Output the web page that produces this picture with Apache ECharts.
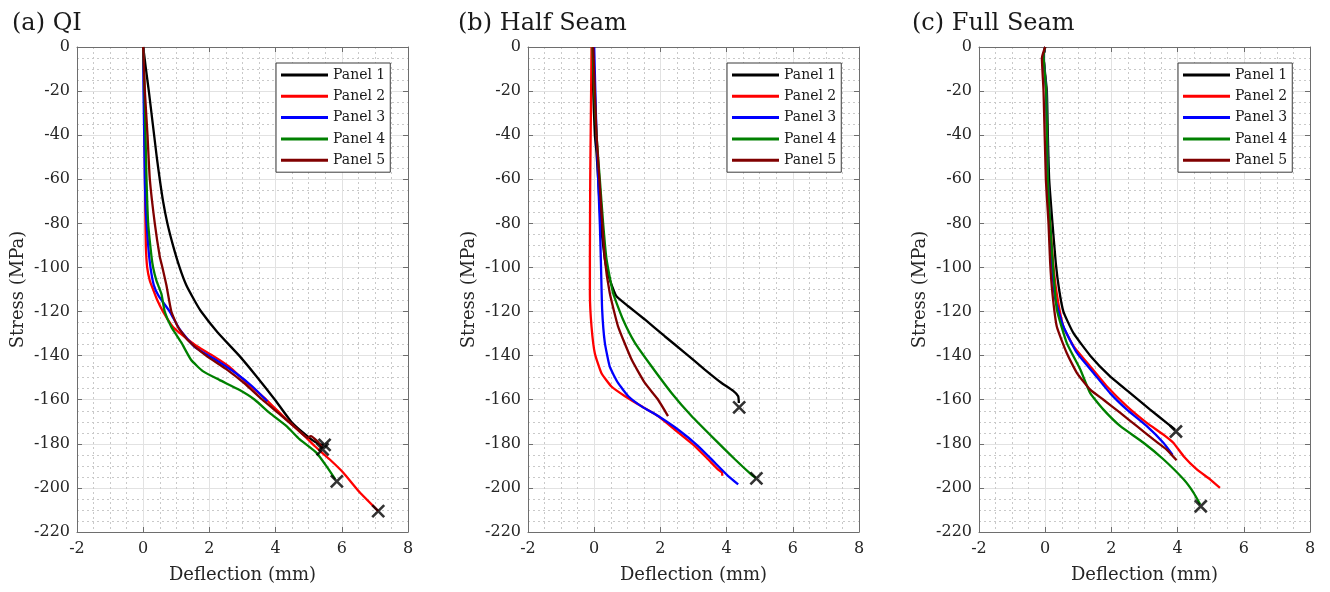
<!DOCTYPE html>
<html>
<head>
<meta charset="utf-8">
<script src="https://cdn.jsdelivr.net/npm/echarts@6/dist/echarts.min.js"></script>
<style>
  html, body { margin: 0; padding: 0; background: #fff; }
  #chart { width: 1330px; height: 592px; }
</style>
</head>
<body>
<div id="chart"></div>
<script>
// data: [deflection mm, stress MPa]
var panelNames = ['Panel 1', 'Panel 2', 'Panel 3', 'Panel 4', 'Panel 5'];
var panelColors = ['#000000', '#ff0000', '#0000ff', '#008000', '#800000'];
var titles = ['(a) QI', '(b) Half Seam', '(c) Full Seam'];
var xTicks = [-2, 0, 2, 4, 6, 8];
var yTicks = [0, -20, -40, -60, -80, -100, -120, -140, -160, -180, -200, -220];

// (a) QI
var qiP1 = [[0,0],[0.05,-6],[0.1,-12],[0.17,-20],[0.25,-30],[0.33,-40],[0.41,-50],[0.5,-60],[0.6,-70],[0.73,-80],[0.9,-90],[1.1,-100],[1.3,-108],[1.55,-115],[1.75,-120],[2.25,-129.5],[2.9,-140],[3.4,-149],[3.98,-160],[4.5,-170.5],[5.08,-178],[5.3,-180],[5.45,-180.5]];
var qiP2 = [[0,0],[0.02,-10],[0.03,-30],[0.05,-50],[0.06,-70],[0.08,-90],[0.12,-100],[0.2,-106],[0.3,-110],[0.43,-115],[0.6,-120],[0.9,-127],[1.25,-131.5],[1.65,-136],[2.1,-140],[2.6,-145],[3.1,-152],[3.72,-160],[4.33,-169],[4.88,-176.5],[5.18,-181],[5.63,-187],[6.04,-193],[6.54,-202],[7.1,-210.5]];
var qiP3 = [[0,0],[0.01,-20],[0.03,-40],[0.05,-60],[0.08,-75],[0.15,-90],[0.22,-100],[0.32,-108],[0.47,-113],[0.8,-120],[1.1,-128],[1.55,-136],[2.2,-142],[2.8,-148],[3.3,-154],[3.75,-160.7]];
var qiP4 = [[0,0],[0.04,-20],[0.07,-40],[0.1,-60],[0.15,-80],[0.25,-95],[0.3,-100],[0.4,-106],[0.55,-112],[0.65,-120],[0.85,-127],[1.15,-134],[1.45,-142],[1.8,-147],[2.3,-151],[2.9,-155.5],[3.37,-160],[3.82,-166],[4.33,-172],[4.73,-178],[5.23,-184],[5.53,-190],[5.8,-196]];
var qiP5 = [[0,0],[0.05,-20],[0.13,-40],[0.2,-60],[0.35,-80],[0.5,-95],[0.58,-100],[0.7,-108],[0.85,-120],[1.05,-127],[1.35,-133],[1.9,-140],[2.5,-146],[3.05,-152.5],[3.6,-160],[4.2,-167.5],[4.66,-173.5],[4.96,-177.3],[5.06,-176.5],[5.27,-179],[5.42,-182]];
var qiFail = [[5.48,-180.5],[5.42,-182.5],[5.85,-197],[7.1,-210.5]];

// (b) Half Seam
var halfP1 = [[-0.05,0],[-0.03,-20],[0.02,-40],[0.07,-48],[0.12,-60],[0.2,-80],[0.32,-96],[0.37,-100],[0.47,-105.5],[0.67,-113],[1.03,-117.6],[1.53,-123.6],[2.13,-131.2],[2.74,-138.7],[3.34,-146.3],[3.84,-152.3],[4.2,-156],[4.35,-158.4],[4.37,-161.5]];
var halfP2 = [[-0.08,0],[-0.1,-30],[-0.12,-60],[-0.13,-96],[-0.13,-112],[-0.08,-127],[0.02,-139],[0.22,-148],[0.52,-154],[0.93,-158.4],[1.43,-163],[1.93,-167.4],[2.43,-173.5],[3.04,-181],[3.44,-187],[3.74,-191.6],[3.86,-193],[3.87,-194.5]];
var halfP3 = [[0,0],[0.07,-40],[0.17,-80],[0.2,-96],[0.24,-119],[0.32,-134],[0.47,-145],[0.72,-152.4],[1.03,-158.4],[1.43,-163],[1.93,-167.4],[2.53,-173.5],[3.14,-181],[3.64,-188.5],[4.04,-194.5],[4.35,-198.4]];
var halfP4 = [[-0.05,0],[0,-20],[0.07,-40],[0.17,-60],[0.27,-80],[0.37,-96],[0.57,-111.6],[0.87,-123.6],[1.23,-134.2],[1.73,-144.8],[2.33,-156.8],[2.94,-167.4],[3.64,-178],[4.25,-187],[4.75,-194],[4.88,-195.5]];
var halfP5 = [[-0.03,0],[0.07,-40],[0.2,-70],[0.32,-96],[0.47,-111.6],[0.72,-126.7],[1.13,-141.8],[1.53,-152.4],[1.93,-160],[2.23,-167.4]];
var halfFail = [[4.38,-163.5],[4.9,-195.7]];

// (c) Full Seam
var fullP1 = [[0,0],[-0.05,-4],[0.05,-20],[0.08,-40],[0.12,-60],[0.22,-80],[0.32,-98],[0.42,-110],[0.55,-120],[0.85,-129.7],[1.36,-140],[1.96,-149.4],[2.57,-157],[3.17,-164.5],[3.67,-170.5],[3.92,-173.5]];
var fullP2 = [[0,0],[-0.05,-4],[0.03,-20],[0.08,-60],[0.15,-80],[0.24,-98],[0.35,-112],[0.55,-126.8],[0.86,-135.8],[1.36,-144.9],[1.86,-153.9],[2.47,-163],[3.07,-170.5],[3.57,-175.8],[3.87,-179.5],[4.18,-185.6],[4.58,-191.6],[4.98,-196.1],[5.28,-200]];
var fullP3 = [[0,0],[-0.05,-4],[0.03,-20],[0.08,-60],[0.14,-80],[0.2,-98],[0.3,-114],[0.55,-126.8],[0.96,-138.8],[1.46,-147.9],[1.96,-157],[2.47,-164.5],[3.07,-172],[3.57,-179.5],[3.85,-185]];
var fullP4 = [[0,0],[-0.05,-4],[0.03,-20],[0.08,-60],[0.15,-80],[0.23,-98],[0.35,-119],[0.65,-134.2],[1.06,-146.3],[1.36,-157],[1.76,-164.5],[2.27,-172],[2.97,-179.5],[3.57,-187],[4.18,-196.1],[4.48,-202.1],[4.68,-207.4]];
var fullP5 = [[0,0],[-0.1,-5],[-0.05,-20],[0.02,-60],[0.1,-80],[0.15,-98],[0.22,-112],[0.35,-126.8],[0.65,-138.8],[0.96,-147.9],[1.36,-155.4],[1.76,-160],[2.27,-166],[2.77,-172],[3.27,-178],[3.67,-182.6],[3.97,-187.5]];
var fullFail = [[3.95,-174.4],[4.7,-208.3]];

var curves = [
    [qiP1, qiP2, qiP3, qiP4, qiP5],
    [halfP1, halfP2, halfP3, halfP4, halfP5],
    [fullP1, fullP2, fullP3, fullP4, fullP5]
];
var fails = [qiFail, halfFail, fullFail];

var chart = echarts.init(document.getElementById('chart'));

var font = 'DejaVu Serif';
var axisColor = '#6e6e6e';
var gridLefts = [77, 528, 979];

var grids = [], xAxes = [], yAxes = [], series = [], legends = [], titleList = [];

for (var i = 0; i < 3; i++) {
    grids.push({ left: gridLefts[i], top: 47, width: 331, height: 485 });

    titleList.push({
        text: titles[i],
        left: [7, 453, 907][i],
        top: 7,
        textStyle: { fontFamily: font, fontSize: 24, fontWeight: 'normal', color: '#1a1a1a' }
    });

    // bottom axis
    xAxes.push({
        gridIndex: i, type: 'value', min: xTicks[0], max: xTicks[xTicks.length - 1], interval: 2,
        name: 'Deflection (mm)', nameLocation: 'middle', nameGap: 34,
        nameTextStyle: { fontFamily: font, fontSize: 18, color: '#262626' },
        axisLine: { onZero: false, lineStyle: { color: axisColor } },
        axisTick: { inside: true, length: 5, lineStyle: { color: axisColor } },
        axisLabel: { margin: 9, fontFamily: font, fontSize: 16, color: '#262626' },
        splitLine: { show: true, lineStyle: { color: '#e2e2e2', width: 1 } },
        minorTick: { show: false, splitNumber: 4 },
        minorSplitLine: { show: true, lineStyle: { color: '#c9c9c9', type: [2, 3] } }
    });
    // top axis (box)
    xAxes.push({
        gridIndex: i, type: 'value', position: 'top', min: -2, max: 8, interval: 2,
        axisLine: { onZero: false, lineStyle: { color: axisColor } },
        axisTick: { inside: true, length: 5, lineStyle: { color: axisColor } },
        axisLabel: { show: false }, splitLine: { show: false }
    });
    // left axis
    yAxes.push({
        gridIndex: i, type: 'value', min: yTicks[yTicks.length - 1], max: yTicks[0], interval: 20,
        name: 'Stress (MPa)', nameLocation: 'middle', nameGap: 50, nameRotate: 90,
        nameTextStyle: { fontFamily: font, fontSize: 18, color: '#262626' },
        axisLine: { onZero: false, lineStyle: { color: axisColor } },
        axisTick: { inside: true, length: 5, lineStyle: { color: axisColor } },
        axisLabel: { margin: 7, fontFamily: font, fontSize: 16, color: '#262626' },
        splitLine: { show: true, lineStyle: { color: '#e2e2e2', width: 1 } },
        minorTick: { show: false, splitNumber: 4 },
        minorSplitLine: { show: true, lineStyle: { color: '#c9c9c9', type: [2, 3] } }
    });
    // right axis (box)
    yAxes.push({
        gridIndex: i, type: 'value', position: 'right', min: -220, max: 0, interval: 20,
        axisLine: { onZero: false, lineStyle: { color: axisColor } },
        axisTick: { inside: true, length: 5, lineStyle: { color: axisColor } },
        axisLabel: { show: false }, splitLine: { show: false }
    });

    for (var k = 0; k < 5; k++) {
        series.push({
            name: panelNames[k],
            type: 'line',
            xAxisIndex: 2 * i, yAxisIndex: 2 * i,
            data: curves[i][k],
            symbol: 'none',
            smooth: 0.15,
            lineStyle: { color: panelColors[k], width: 2.3 },
            itemStyle: { color: panelColors[k] },
            z: 3 + k
        });
    }

    series.push({
        name: 'failure',
        type: 'scatter',
        xAxisIndex: 2 * i, yAxisIndex: 2 * i,
        data: fails[i],
        symbol: 'path://M0,0 L10,10 M10,0 L0,10',
        symbolSize: 12,
        itemStyle: { color: 'rgba(0,0,0,0)', borderColor: '#000', borderWidth: 2.6 },
        z: 20
    });

    legends.push({
        data: panelNames,
        orient: 'vertical',
        left: [276, 727, 1178][i],
        top: 63,
        icon: 'rect',
        itemWidth: 47,
        itemHeight: 3,
        itemGap: 7.3,
        padding: [5, 5, 5, 5],
        borderColor: '#3a3a3a',
        borderWidth: 1,
        backgroundColor: '#ffffff',
        selectedMode: false,
        textStyle: { fontFamily: font, fontSize: 14, lineHeight: 14, color: '#1a1a1a' }
    });
}

var option = {
    animation: false,
    backgroundColor: '#ffffff',
    title: titleList,
    legend: legends,
    grid: grids,
    xAxis: xAxes,
    yAxis: yAxes,
    series: series
};

chart.setOption(option);
</script>
</body>
</html>
